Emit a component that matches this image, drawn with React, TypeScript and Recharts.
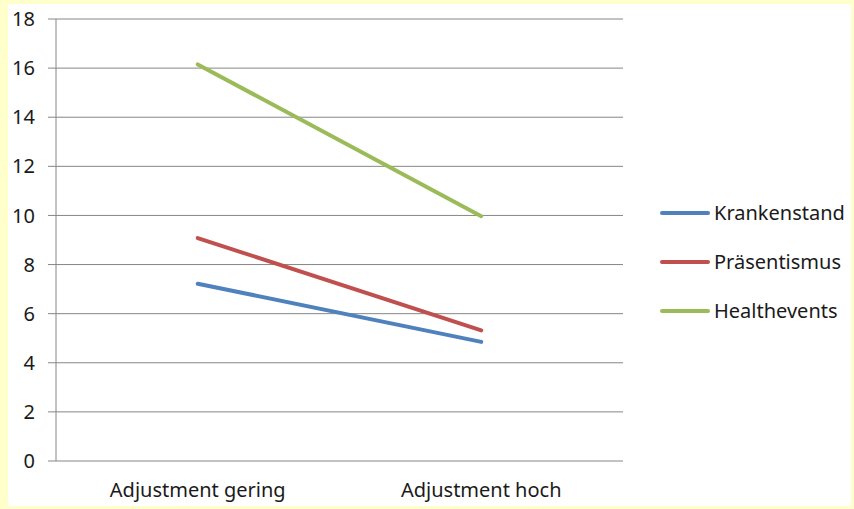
import React from "react";
import { LineChart, Line, XAxis, YAxis, CartesianGrid, Legend } from "recharts";

const categories = ["Adjustment gering", "Adjustment hoch"];
const seriesNames = ["Krankenstand", "Präsentismus", "Healthevents"];
const seriesColors = ["#4F81BD", "#C0504D", "#9BBB59"];
const krankenstand = [7.22, 4.85];
const praesentismus = [9.08, 5.32];
const healthevents = [16.15, 9.97];
const yTicks = [0, 2, 4, 6, 8, 10, 12, 14, 16, 18];

const seriesValues = [krankenstand, praesentismus, healthevents];

const data = categories.map((name, i) => {
  const row: Record<string, string | number> = { name };
  seriesNames.forEach((s, k) => {
    row[s] = seriesValues[k][i];
  });
  return row;
});

const FONT = "'Noto Sans', sans-serif";
const AXIS_GREY = "#868686";

const renderLegend = (props: any) => {
  const payload = [...(props.payload || [])].sort(
    (a: any, b: any) => seriesNames.indexOf(a.value) - seriesNames.indexOf(b.value)
  );
  return (
    <div style={{ fontFamily: FONT, fontSize: 20, color: "#1a1a1a" }}>
      {payload.map((entry: any) => (
        <div
          key={entry.value}
          style={{ height: 49, display: "flex", alignItems: "center" }}
        >
          <svg width={50} height={6} style={{ marginRight: 4 }}>
            <line x1={2} y1={3} x2={48} y2={3} stroke={entry.color} strokeWidth={4} strokeLinecap="round" />
          </svg>
          <span>{entry.value}</span>
        </div>
      ))}
    </div>
  );
};

export default function App() {
  return (
    <div style={{ position: "absolute", left: 0, top: 0, width: 854, height: 509, background: "#FFFFCC" }}>
      <div style={{ position: "absolute", left: 8, top: 4, width: 843, height: 502, background: "#ffffff" }}>
        <LineChart
          width={843}
          height={502}
          data={data}
          margin={{ top: 15, right: 228, bottom: 0, left: 0 }}
        >
          <CartesianGrid vertical={false} stroke={AXIS_GREY} xAxisId="cat" />
          <XAxis
            xAxisId="edges"
            type="number"
            domain={[0, 2]}
            ticks={[0, 1, 2]}
            tick={false}
            tickSize={5}
            tickLine={{ stroke: AXIS_GREY }}
            axisLine={{ stroke: AXIS_GREY }}
            height={0}
          />
          <XAxis
            xAxisId="cat"
            dataKey="name"
            scale="band"
            interval={0}
            height={45}
            axisLine={false}
            tickLine={false}
            tickSize={0}
            tickMargin={22}
            tick={{ fontFamily: FONT, fontSize: 20, fill: "#1a1a1a" }}
          />
          <YAxis
            domain={[0, 18]}
            ticks={yTicks}
            width={48}
            tickSize={8}
            tickMargin={13}
            axisLine={{ stroke: AXIS_GREY }}
            tickLine={{ stroke: AXIS_GREY }}
            tick={{ fontFamily: FONT, fontSize: 20, fill: "#1a1a1a" }}
            interval={0}
          />
          <Legend
            layout="vertical"
            align="center"
            verticalAlign="middle"
            content={renderLegend}
            wrapperStyle={{ left: 652, top: 184, width: 190 }}
          />
          {seriesNames.map((s, k) => (
            <Line
              key={s}
              xAxisId="cat"
              type="linear"
              dataKey={s}
              stroke={seriesColors[k]}
              strokeWidth={4}
              strokeLinecap="round"
              dot={false}
              activeDot={false}
              isAnimationActive={false}
            />
          ))}
        </LineChart>
      </div>
    </div>
  );
}
